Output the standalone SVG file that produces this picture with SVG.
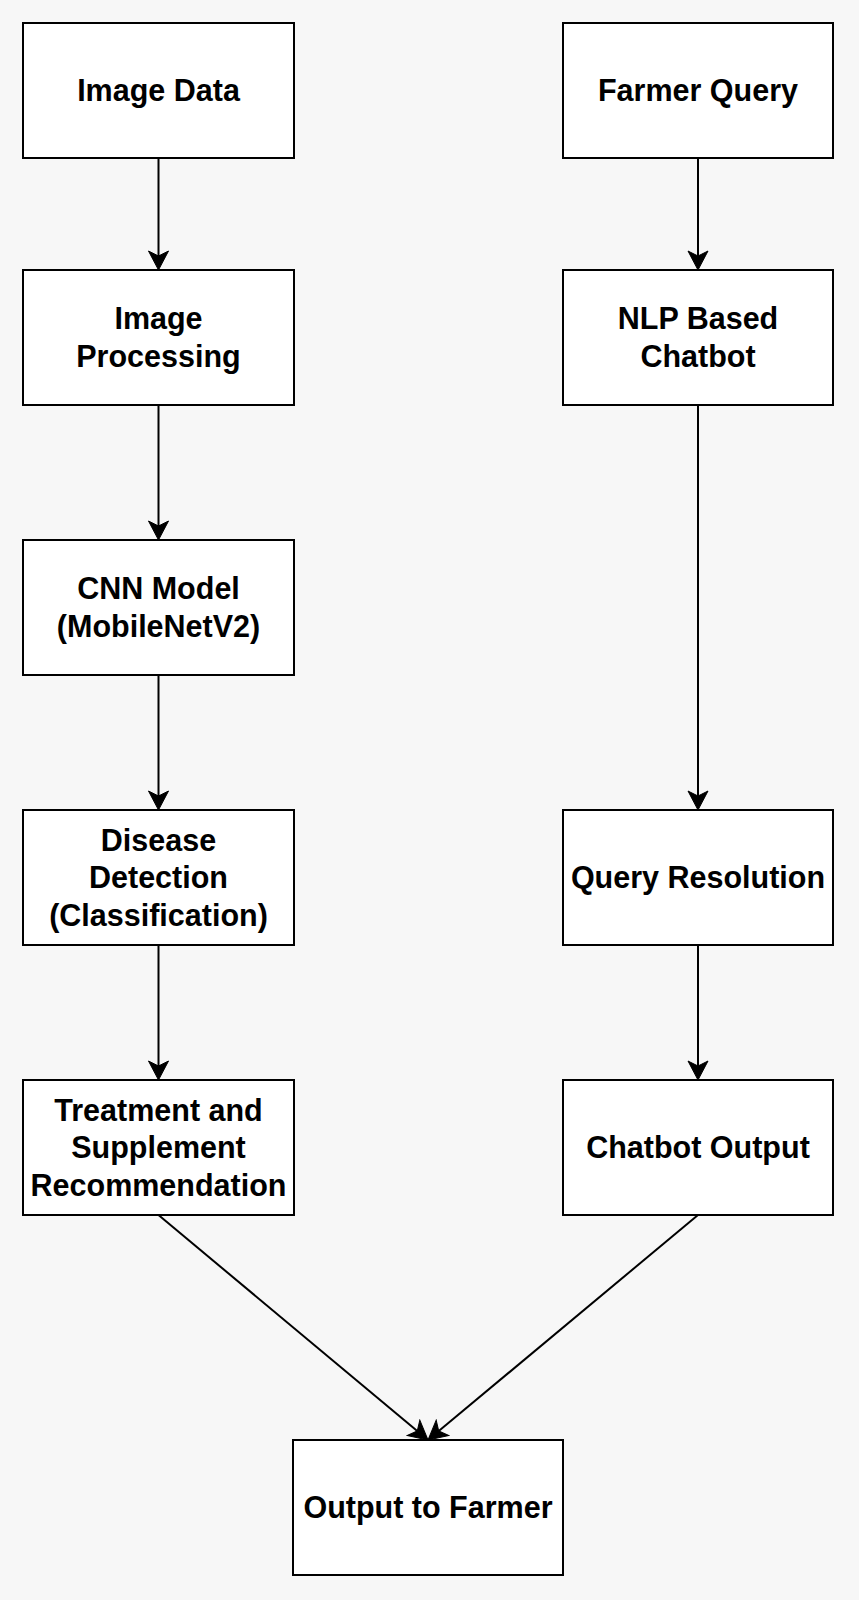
<svg xmlns="http://www.w3.org/2000/svg" width="859" height="1600" viewBox="0 0 859 1600">
<style>
.box{fill:#ffffff;stroke:#000000;stroke-width:2}
.lbl{font-family:"Liberation Sans",Arial,Helvetica,sans-serif;font-weight:bold;font-size:30.5px;fill:#000000;text-anchor:middle}
.edge{fill:none;stroke:#000000;stroke-width:2}
</style>
<defs>
<marker id="arr" markerUnits="userSpaceOnUse" viewBox="-20 -11 22 22" markerWidth="22" markerHeight="22" refX="-14" refY="0" orient="auto">
<path d="M0,0 L-19,-10 L-14,0 L-19,10 Z" fill="#000000" stroke="#000000" stroke-width="1" stroke-linejoin="miter"/>
</marker>
</defs>
<rect x="0" y="0" width="859" height="1600" fill="#f7f7f7"/>
<g id="connectors">
<line class="edge" x1="158.5" y1="158" x2="158.5" y2="256" marker-end="url(#arr)"/>
<line class="edge" x1="158.5" y1="405" x2="158.5" y2="526" marker-end="url(#arr)"/>
<line class="edge" x1="158.5" y1="675" x2="158.5" y2="796" marker-end="url(#arr)"/>
<line class="edge" x1="158.5" y1="945" x2="158.5" y2="1066" marker-end="url(#arr)"/>
<line class="edge" x1="698" y1="158" x2="698" y2="256" marker-end="url(#arr)"/>
<line class="edge" x1="698" y1="405" x2="698" y2="796" marker-end="url(#arr)"/>
<line class="edge" x1="698" y1="945" x2="698" y2="1066" marker-end="url(#arr)"/>
<line class="edge" x1="158.5" y1="1215" x2="417.25" y2="1431.03" marker-end="url(#arr)"/>
<line class="edge" x1="698" y1="1215" x2="438.75" y2="1431.04" marker-end="url(#arr)"/>
</g>
<g id="image-data"><rect class="box" x="23" y="23" width="271" height="135"/><text class="lbl" x="158.5" y="101">Image Data</text></g>
<g id="image-processing"><rect class="box" x="23" y="270" width="271" height="135"/><text class="lbl" x="158.5" y="329">Image</text><text class="lbl" x="158.5" y="366.5">Processing</text></g>
<g id="cnn-model"><rect class="box" x="23" y="540" width="271" height="135"/><text class="lbl" x="158.5" y="599">CNN Model</text><text class="lbl" x="158.5" y="636.5">(MobileNetV2)</text></g>
<g id="disease-detection"><rect class="box" x="23" y="810" width="271" height="135"/><text class="lbl" x="158.5" y="850.5">Disease</text><text class="lbl" x="158.5" y="888">Detection</text><text class="lbl" x="158.5" y="925.5">(Classification)</text></g>
<g id="treatment"><rect class="box" x="23" y="1080" width="271" height="135"/><text class="lbl" x="158.5" y="1120.5">Treatment and</text><text class="lbl" x="158.5" y="1158">Supplement</text><text class="lbl" x="158.5" y="1195.5">Recommendation</text></g>
<g id="farmer-query"><rect class="box" x="563" y="23" width="270" height="135"/><text class="lbl" x="698" y="101">Farmer Query</text></g>
<g id="nlp-chatbot"><rect class="box" x="563" y="270" width="270" height="135"/><text class="lbl" x="698" y="329">NLP Based</text><text class="lbl" x="698" y="366.5">Chatbot</text></g>
<g id="query-resolution"><rect class="box" x="563" y="810" width="270" height="135"/><text class="lbl" x="698" y="888">Query Resolution</text></g>
<g id="chatbot-output"><rect class="box" x="563" y="1080" width="270" height="135"/><text class="lbl" x="698" y="1158">Chatbot Output</text></g>
<g id="output-to-farmer"><rect class="box" x="293" y="1440" width="270" height="135"/><text class="lbl" x="428" y="1518">Output to Farmer</text></g>
</svg>
